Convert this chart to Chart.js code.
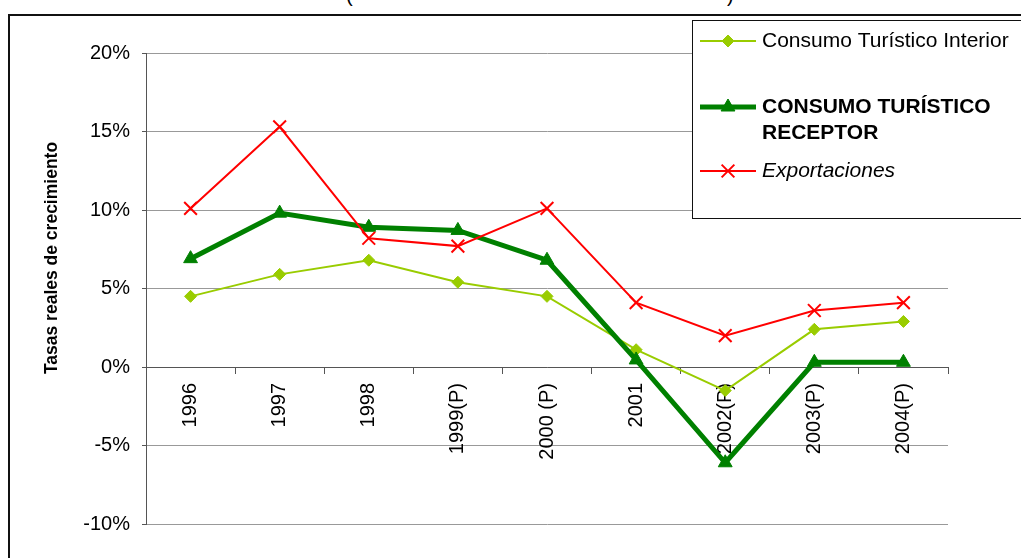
<!DOCTYPE html>
<html>
<head>
<meta charset="utf-8">
<script src="https://cdn.jsdelivr.net/npm/chart.js@4/dist/chart.umd.min.js"></script>
<style>
  html, body { margin: 0; padding: 0; background: #fff; }
  #wrap { position: relative; width: 1021px; height: 558px; overflow: hidden; }
  #frame { position: absolute; left: 8px; top: 14px; width: 1100px; height: 600px; border: 2px solid #111; box-sizing: border-box; }
  .paren { position: absolute; top: -16px; font: 20px "Liberation Sans", Arial, sans-serif; color: #000; }
  canvas { position: absolute; left: 0; top: 0; }
</style>
</head>
<body>
<div id="wrap">
  <div id="frame"></div>
  <span class="paren" style="left:346px">(</span>
  <span class="paren" style="left:727px">)</span>
  <canvas id="chart" width="1021" height="558"></canvas>
</div>
<script>
// categorías y series (tasas reales de crecimiento, %)
const years = ['1996', '1997', '1998', '1999(P)', '2000 (P)', '2001', '2002(P)', '2003(P)', '2004(P)'];
const interior = [4.5, 5.9, 6.8, 5.4, 4.5, 1.1, -1.5, 2.4, 2.9];
const receptor = [6.9, 9.8, 8.9, 8.7, 6.8, 0.45, -6.1, 0.3, 0.3];
const exportaciones = [10.1, 15.3, 8.2, 7.7, 10.1, 4.1, 2.0, 3.6, 4.1];
const yTicks = [-10, -5, 0, 5, 10, 15, 20];

const FONT = '"Liberation Sans", Arial, sans-serif';

// leyenda dibujada a mano (caja encima del área del gráfico)
const legendBox = {
  id: 'legendBox',
  afterDraw(chart){
    const ctx = chart.ctx;
    const items = [
      { ds: 0, lines: ['Consumo Turístico Interior'], font: '21px ' + FONT, y: 41 },
      { ds: 1, lines: ['CONSUMO TURÍSTICO', 'RECEPTOR'], font: 'bold 21px ' + FONT, y: 107 },
      { ds: 2, lines: ['Exportaciones'], font: 'italic 21px ' + FONT, y: 171 }
    ];
    ctx.save();
    ctx.fillStyle = '#fff';
    ctx.strokeStyle = '#111';
    ctx.lineWidth = 1;
    ctx.fillRect(692.5, 20.5, 340, 198);
    ctx.strokeRect(692.5, 20.5, 340, 198);
    items.forEach(it => {
      const ds = chart.data.datasets[it.ds];
      ctx.strokeStyle = ds.borderColor;
      ctx.lineWidth = ds.borderWidth;
      ctx.beginPath();
      ctx.moveTo(700, it.y);
      ctx.lineTo(756, it.y);
      ctx.stroke();
      ctx.fillStyle = ds.pointBackgroundColor;
      ctx.strokeStyle = ds.pointBorderColor;
      ctx.lineWidth = ds.pointBorderWidth;
      Chart.helpers.drawPoint(ctx, {
        pointStyle: ds.pointStyle,
        radius: ds.pointRadius,
        borderWidth: ds.pointBorderWidth
      }, 728, it.y);
      ctx.fillStyle = '#000';
      ctx.font = it.font;
      ctx.textBaseline = 'middle';
      ctx.textAlign = 'left';
      it.lines.forEach((t, i) => ctx.fillText(t, 762, it.y + i * 26));
    });
    ctx.restore();
  }
};

// título del eje Y colocado a mano
const yTitle = {
  id: 'yTitle',
  afterDraw(chart){
    const ctx = chart.ctx;
    ctx.save();
    ctx.translate(52, 258);
    ctx.rotate(-Math.PI / 2);
    ctx.font = 'bold 17.5px ' + FONT;
    ctx.fillStyle = '#000';
    ctx.textAlign = 'center';
    ctx.textBaseline = 'middle';
    ctx.fillText('Tasas reales de crecimiento', 0, 0);
    ctx.restore();
  }
};

Chart.defaults.font.family = FONT;
Chart.defaults.color = '#000';

new Chart(document.getElementById('chart').getContext('2d'), {
  type: 'line',
  data: {
    labels: years,
    datasets: [
      {
        label: 'Consumo Turístico Interior',
        data: interior,
        borderColor: '#99CC00',
        backgroundColor: '#99CC00',
        borderWidth: 2,
        pointStyle: 'rectRot',
        pointRadius: 6,
        pointBorderWidth: 1,
        pointBackgroundColor: '#99CC00',
        pointBorderColor: '#99CC00',
        order: 2
      },
      {
        label: 'CONSUMO TURÍSTICO RECEPTOR',
        data: receptor,
        borderColor: '#008000',
        backgroundColor: '#008000',
        borderWidth: 5,
        pointStyle: 'triangle',
        pointRadius: 8,
        pointBorderWidth: 1,
        pointBackgroundColor: '#008000',
        pointBorderColor: '#008000',
        order: 1
      },
      {
        label: 'Exportaciones',
        data: exportaciones,
        borderColor: '#FF0000',
        backgroundColor: '#FF0000',
        borderWidth: 2,
        pointStyle: 'crossRot',
        pointRadius: 9,
        pointBorderWidth: 2,
        pointBackgroundColor: '#FF0000',
        pointBorderColor: '#FF0000',
        order: 0
      }
    ]
  },
  options: {
    responsive: false,
    animation: false,
    layout: { padding: { left: 10, right: 73, top: 53, bottom: 34 } },
    plugins: { legend: { display: false }, tooltip: { enabled: false } },
    elements: { line: { tension: 0 } },
    scales: {
      x: {
        type: 'category',
        position: { y: 0 },
        offset: true,
        grid: { drawOnChartArea: false, offset: true, tickLength: 6, tickColor: '#555', tickWidth: 1 },
        border: { color: '#555', width: 1 },
        ticks: { minRotation: 90, maxRotation: 90, padding: 10, font: { size: 20 }, color: '#000' }
      },
      y: {
        min: -10,
        max: 20,
        afterBuildTicks(scale){ scale.ticks = yTicks.map(v => ({ value: v })); },
        afterFit(scale){ scale.width = 136; },
        grid: { color: '#999', lineWidth: 1, tickLength: 4, tickColor: '#555' },
        border: { color: '#555', width: 1 },
        ticks: { padding: 12, font: { size: 20 }, color: '#000', callback: v => v + '%' }
      }
    }
  },
  plugins: [legendBox, yTitle]
});
</script>
</body>
</html>
